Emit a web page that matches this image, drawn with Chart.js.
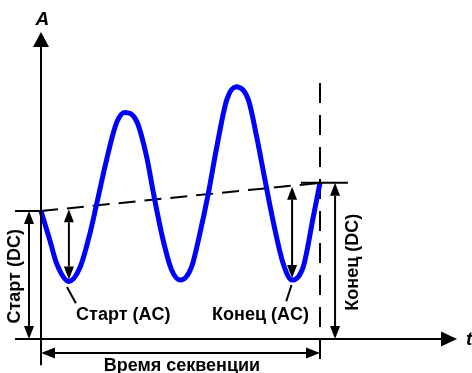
<!DOCTYPE html>
<html lang="ru">
<head>
<meta charset="UTF-8">
<script src="https://cdn.jsdelivr.net/npm/chart.js"></script>
<title>Секвенция</title>
<style>
  html, body { margin: 0; padding: 0; background: #fff; }
  #wrap { width: 472px; height: 373px; }
</style>
</head>
<body>
<div id="wrap"><canvas id="myChart" width="472" height="373"></canvas></div>
<script>
// время (условные единицы, секвенция = 0..10) и ток
const times   = [0, 0.32, 0.56, 1, 1.4, 1.76, 2, 2.35, 2.71, 3, 3.43, 3.79, 4.03, 4.38, 4.68, 5,
                 5.4, 5.7, 6, 6.3, 6.66, 7, 7.43, 7.73, 8.03, 8.33, 8.68, 9, 9.4, 9.76, 10];
const current = [10, 7.7, 5.9, 4.5, 5.6, 8.3, 10.6, 14.0, 16.9, 17.7, 17.0, 14.2, 11.4, 7.7, 5.4, 4.6,
                 5.65, 8.3, 11.4, 15.0, 18.7, 19.7, 18.7, 15.8, 12.4, 9.1, 5.9, 4.6, 5.65, 9.55, 12.2];
const dcStart = 10;     // Старт (DC)
const dcEnd = 12.2;     // Конец (DC)
const acStartT = 1;     // минимум для Старт (AC)
const acEndT = 9;       // минимум для Конец (AC)
const seqEnd = 10;      // конец секвенции

const axisY = 'A';
const axisX = 't';
const txtStartDC = 'Старт (DC)';
const txtEndDC = 'Конец (DC)';
const txtStartAC = 'Старт (AC)';
const txtEndAC = 'Конец (AC)';
const txtSeq = 'Время секвенции';

function baseAt(t) {
    return dcStart + (dcEnd - dcStart) * t / seqEnd;
}
function valAt(t) {
    return current[times.indexOf(t)];
}

const FONT = 'bold 18px "Liberation Sans", Arial, sans-serif';

function head(ctx, x, y, ang, len, w) {
    ctx.save();
    ctx.translate(x, y);
    ctx.rotate(ang);
    ctx.beginPath();
    ctx.moveTo(0, 0);
    ctx.lineTo(-len, -w / 2);
    ctx.lineTo(-len, w / 2);
    ctx.closePath();
    ctx.fill();
    ctx.restore();
}

function line(ctx, x1, y1, x2, y2) {
    ctx.beginPath();
    ctx.moveTo(x1, y1);
    ctx.lineTo(x2, y2);
    ctx.stroke();
}

// двойная стрелка между двумя точками (в пикселях)
function dblArrow(ctx, x1, y1, x2, y2, len, w) {
    const ang = Math.atan2(y2 - y1, x2 - x1);
    const dx = Math.cos(ang) * len, dy = Math.sin(ang) * len;
    line(ctx, x1 + dx, y1 + dy, x2 - dx, y2 - dy);
    head(ctx, x2, y2, ang, len, w);
    head(ctx, x1, y1, ang + Math.PI, len, w);
}

const decor = {
    id: 'decor',
    afterDatasetsDraw(chart) {
        const ctx = chart.ctx;
        const X = v => chart.scales.x.getPixelForValue(v);
        const Y = v => chart.scales.y.getPixelForValue(v);
        ctx.save();
        ctx.strokeStyle = '#000';
        ctx.fillStyle = '#000';
        ctx.lineWidth = 2;
        ctx.lineCap = 'butt';

        // оси
        line(ctx, X(0), Y(-2.05), X(0), Y(23.98) + 14);
        head(ctx, X(0), Y(23.98), -Math.PI / 2, 15, 16);
        line(ctx, X(-0.93), Y(0), X(14.91) - 14, Y(0));
        head(ctx, X(14.91), Y(0), 0, 16, 15);

        // короткие выноски уровней DC
        line(ctx, X(-0.93), Y(dcStart), X(0), Y(dcStart));
        line(ctx, X(9.32), Y(dcEnd), X(11.0), Y(dcEnd));

        // стрелки DC
        dblArrow(ctx, X(-0.43), Y(dcStart), X(-0.43), Y(0), 13, 10);
        dblArrow(ctx, X(10.54), Y(dcEnd), X(10.54), Y(0), 13, 10);

        // стрелки AC
        dblArrow(ctx, X(acStartT), Y(baseAt(acStartT)) + 1, X(acStartT), Y(valAt(acStartT)) - 2, 13, 10);
        dblArrow(ctx, X(acEndT), Y(baseAt(acEndT)) + 1, X(acEndT), Y(valAt(acEndT)) - 2, 13, 10);

        // время секвенции
        dblArrow(ctx, X(0), Y(-1.09), X(seqEnd), Y(-1.09), 14, 11);

        // выноски к подписям AC
        line(ctx, X(0.93), Y(4.06), X(1.25), Y(2.8));
        line(ctx, X(8.98), Y(4.22), X(8.79), Y(2.95));

        // подписи
        ctx.font = FONT;
        ctx.textAlign = 'center';
        ctx.textBaseline = 'middle';
        ctx.fillText(txtStartAC, X(2.95), Y(1.87));
        ctx.fillText(txtEndAC, X(7.87), Y(1.87));
        ctx.fillText(txtSeq, X(5.05), Y(-2.15));

        ctx.save();
        ctx.translate(X(-0.93), Y(4.9));
        ctx.rotate(-Math.PI / 2);
        ctx.fillText(txtStartDC, 0, 0);
        ctx.restore();
        ctx.save();
        ctx.translate(X(11.18), Y(6.0));
        ctx.rotate(-Math.PI / 2);
        ctx.fillText(txtEndDC, 0, 0);
        ctx.restore();

        ctx.font = 'italic bold 19px "Liberation Sans", Arial, sans-serif';
        ctx.fillText(axisY, X(0.05), Y(24.95));
        ctx.fillText(axisX, X(15.35), Y(-0.05));
        ctx.restore();
    }
};

const config = {
    type: 'line',
    data: {
        datasets: [{
            data: times.map((t, i) => ({ x: t, y: current[i] })),
            borderColor: '#0000ff',
            borderWidth: 5,
            pointRadius: 0,
            cubicInterpolationMode: 'monotone',
            fill: false
        }, {
            data: [{ x: 0, y: dcStart }, { x: seqEnd, y: dcEnd }],
            borderColor: '#000',
            borderWidth: 2,
            borderDash: [17, 9],
            pointRadius: 0,
            fill: false
        }, {
            data: [{ x: seqEnd, y: 20 }, { x: seqEnd, y: -2.05 }],
            borderColor: '#000',
            borderWidth: 2,
            borderDash: [20, 12],
            pointRadius: 0,
            fill: false
        }]
    },
    options: {
        responsive: false,
        animation: false,
        layout: { padding: 0 },
        plugins: { legend: { display: false }, tooltip: { enabled: false } },
        scales: {
            x: { type: 'linear', display: false, min: -1.4695, max: 15.448 },
            y: { type: 'linear', display: false, min: -2.656, max: 26.484 }
        }
    },
    plugins: [decor]
};

new Chart(document.getElementById('myChart').getContext('2d'), config);
</script>
</body>
</html>
